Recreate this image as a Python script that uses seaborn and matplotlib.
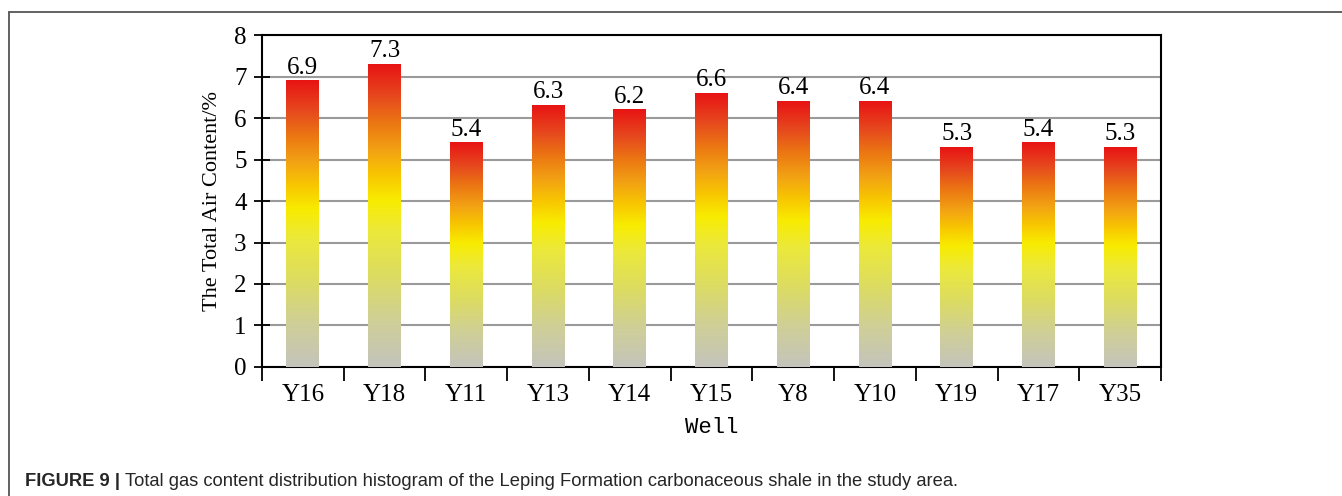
import numpy as np
import pandas as pd
import matplotlib
matplotlib.use("Agg")
import matplotlib.pyplot as plt
from matplotlib.colors import LinearSegmentedColormap
from matplotlib.lines import Line2D
from matplotlib.ticker import FixedLocator
import seaborn as sns

wells = ["Y16", "Y18", "Y11", "Y13", "Y14", "Y15", "Y8", "Y10", "Y19", "Y17", "Y35"]
gas_content = [6.9, 7.3, 5.4, 6.3, 6.2, 6.6, 6.4, 6.4, 5.3, 5.4, 5.3]
y_ticks = [0, 1, 2, 3, 4, 5, 6, 7, 8]

df = pd.DataFrame({"Well": wells, "Gas": gas_content})

sns.set_theme(style="white")
plt.rcParams["font.family"] = ["Liberation Serif", "DejaVu Serif"]

fig = plt.figure(figsize=(13.42, 4.96), dpi=100)
ax = fig.add_axes([0.1952, 0.2601, 0.6699, 0.6693])

sns.barplot(data=df, x="Well", y="Gas", order=wells, color="red",
            width=0.4, ax=ax, zorder=3)

# vertical gradient for each bar: grey at the base, yellow in the middle, red at the top
grad = LinearSegmentedColormap.from_list("shale", [
    (0.00, "#c4c4bc"),
    (0.15, "#cfcf98"),
    (0.30, "#dcdc62"),
    (0.45, "#ece93a"),
    (0.55, "#f8ec00"),
    (0.63, "#f8c800"),
    (0.72, "#f2a014"),
    (0.80, "#ec7a12"),
    (0.90, "#e6461e"),
    (1.00, "#e81414"),
])
ramp = np.linspace(0, 1, 256).reshape(-1, 1)
for patch in ax.patches:
    x0, y0 = patch.get_x(), patch.get_y()
    w, h = patch.get_width(), patch.get_height()
    ax.imshow(ramp, cmap=grad, origin="lower", aspect="auto",
              extent=(x0, x0 + w, y0, y0 + h), zorder=3, interpolation="bilinear")
    patch.set_facecolor("none")
    patch.set_edgecolor("none")
    ax.text(x0 + w / 2, y0 + h + 0.05, f"{h:.1f}", ha="center", va="bottom",
            fontsize=18, color="black", zorder=4)

ax.set_xlim(-0.5, len(wells) - 0.5)
ax.set_ylim(0, 8)
ax.set_yticks(y_ticks)
ax.yaxis.grid(True, color="#9a9a9a", linewidth=1.5, zorder=0)
ax.xaxis.grid(False)
ax.set_axisbelow(True)

for side in ["left", "right", "top", "bottom"]:
    ax.spines[side].set_visible(True)
    ax.spines[side].set_color("black")
    ax.spines[side].set_linewidth(1.5)

ax.tick_params(axis="y", which="major", direction="inout", length=12, width=1.3,
               labelsize=18, pad=5, colors="black", left=True)
ax.tick_params(axis="x", which="major", length=0, labelsize=18, pad=12, colors="black")
ax.xaxis.set_minor_locator(FixedLocator(np.arange(-0.5, len(wells), 1.0)))
ax.tick_params(axis="x", which="minor", direction="out", length=10, width=1.3,
               bottom=True, color="black")

ax.set_ylabel("The Total Air Content/%", fontsize=16, labelpad=9, color="black")
ax.set_xlabel("Well", fontsize=16, family=["Liberation Mono", "DejaVu Sans Mono"],
              labelpad=8, color="black")

# panel frame
fig.add_artist(Line2D([9 / 1342, 1.0], [1 - 12 / 496, 1 - 12 / 496],
                      transform=fig.transFigure, color="#555555", linewidth=1.3))
fig.add_artist(Line2D([9 / 1342, 9 / 1342], [0.0, 1 - 12 / 496],
                      transform=fig.transFigure, color="#555555", linewidth=1.3))

# caption
cap_y = 1 - 482 / 496
t1 = fig.text(25 / 1342, cap_y, "FIGURE 9 | ", fontsize=13.2, fontweight="bold",
              family=["Liberation Sans", "DejaVu Sans"], va="center", ha="left")
fig.canvas.draw()
bb = t1.get_window_extent()
fig.text(bb.x1 / fig.bbox.width, cap_y,
         "Total gas content distribution histogram of the Leping Formation carbonaceous shale in the study area.",
         fontsize=13.2, family=["Liberation Sans", "DejaVu Sans"], va="center", ha="left")

fig.savefig("out.png", dpi=100, facecolor="white")
